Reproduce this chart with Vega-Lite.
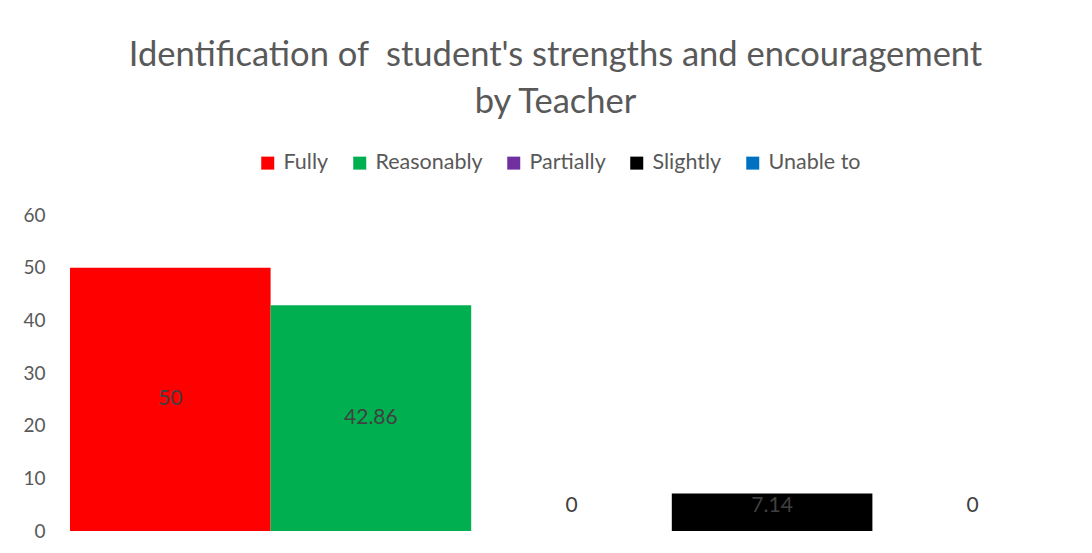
{
  "$schema": "https://vega.github.io/schema/vega-lite/v6.json",
  "width": 1003,
  "height": 316,
  "autosize": {"type": "none"},
  "padding": {"left": 70, "top": 215, "right": 19, "bottom": 22},
  "background": "white",
  "config": {"view": {"stroke": null}, "font": "Lato"},
  "data": {
    "values": [
      {"category": "Fully", "value": 50},
      {"category": "Reasonably", "value": 42.86},
      {"category": "Partially", "value": 0},
      {"category": "Slightly", "value": 7.14},
      {"category": "Unable to", "value": 0}
    ]
  },
  "title": {
    "text": ["Identification of\u00a0 student's strengths and encouragement", "by Teacher"],
    "font": "Lato",
    "fontSize": 34.5,
    "fontWeight": "normal",
    "color": "#595959",
    "anchor": "middle",
    "frame": "group",
    "dx": -16,
    "offset": 32,
    "lineHeight": 47
  },
  "layer": [
    {
      "mark": {"type": "bar"},
      "encoding": {
        "x": {"field": "category", "type": "nominal", "sort": ["Fully", "Reasonably", "Partially", "Slightly", "Unable to"], "scale": {"paddingInner": 0, "paddingOuter": 0}, "axis": null},
        "y": {"field": "value", "type": "quantitative", "scale": {"domain": [0, 60]},
          "axis": {"values": [0, 10, 20, 30, 40, 50, 60], "domain": false, "ticks": false, "grid": false, "labelFontSize": 19, "labelColor": "#595959", "labelFont": "Lato", "labelPadding": 25, "title": null}},
        "color": {"field": "category", "type": "nominal",
          "scale": {"domain": ["Fully", "Reasonably", "Partially", "Slightly", "Unable to"], "range": ["#FF0000", "#00B050", "#7030A0", "#000000", "#0070C0"]},
          "legend": {"orient": "none", "legendX": 187, "legendY": -63, "direction": "horizontal", "title": null, "symbolType": "square", "symbolSize": 169, "symbolStrokeWidth": 0, "labelFontSize": 21.5, "labelColor": "#595959", "labelFont": "Lato", "labelOffset": 5, "columnPadding": 20}}
      }
    },
    {
      "transform": [{"filter": "datum.value >= 10"}],
      "mark": {"type": "text", "font": "Lato", "fontSize": 21, "color": "#404040", "baseline": "middle"},
      "encoding": {
        "x": {"field": "category", "type": "nominal", "sort": ["Fully", "Reasonably", "Partially", "Slightly", "Unable to"], "scale": {"paddingInner": 0, "paddingOuter": 0}, "axis": null},
        "y": {"field": "value", "type": "quantitative", "scale": {"domain": [0, 120]}, "axis": null},
        "text": {"field": "value", "type": "quantitative"}
      }
    },
    {
      "transform": [{"filter": "datum.value < 10"}],
      "mark": {"type": "text", "font": "Lato", "fontSize": 21, "color": "#404040", "baseline": "middle", "yOffset": -25},
      "encoding": {
        "x": {"field": "category", "type": "nominal", "sort": ["Fully", "Reasonably", "Partially", "Slightly", "Unable to"], "scale": {"paddingInner": 0, "paddingOuter": 0}, "axis": null},
        "y": {"datum": 0, "type": "quantitative", "scale": {"domain": [0, 60]}, "axis": null},
        "text": {"field": "value", "type": "quantitative"}
      }
    }
  ],
  "resolve": {"scale": {"y": "independent"}}
}
